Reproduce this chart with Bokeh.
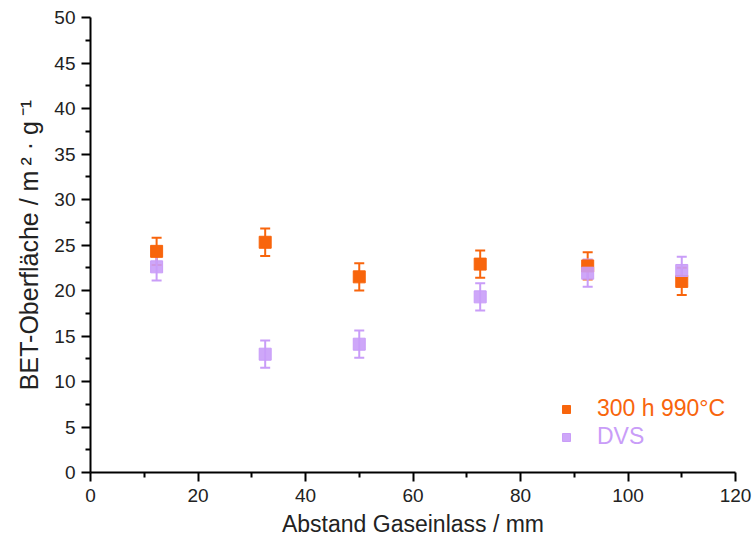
from bokeh.plotting import figure
from bokeh.models import (ColumnDataSource, Range1d, Whisker, TeeHead, Legend,
                          LegendItem, FixedTicker)
from bokeh.embed import file_html
from bokeh.resources import INLINE

# Data
distance_mm = [12.3, 32.5, 50.0, 72.5, 92.5, 110.0]
bet_300h = [24.3, 25.3, 21.5, 22.9, 22.7, 21.0]
err_300h = [1.5, 1.5, 1.5, 1.5, 1.5, 1.5]
bet_dvs = [22.6, 13.0, 14.1, 19.3, 21.9, 22.2]
err_dvs = [1.5, 1.5, 1.5, 1.5, 1.5, 1.5]
series_names = ["300 h 990°C", "DVS"]
x_ticks = [0, 20, 40, 60, 80, 100, 120]
y_ticks = [0, 5, 10, 15, 20, 25, 30, 35, 40, 45, 50]

ORANGE = "#F8650C"
PURPLE = "#C99DF8"
FONT = "Liberation Sans"

p = figure(width=753, height=544, output_backend="svg", toolbar_location=None,
           x_range=Range1d(0, 120), y_range=Range1d(0, 50),
           min_border_left=90, min_border_right=18, min_border_top=17,
           min_border_bottom=72)
p.outline_line_color = None
p.xgrid.grid_line_color = None
p.ygrid.grid_line_color = None
p.background_fill_color = "white"
p.border_fill_color = "white"

def make_src(y, e):
    return ColumnDataSource(dict(x=distance_mm, y=y,
                                 lo=[a - b for a, b in zip(y, e)],
                                 hi=[a + b for a, b in zip(y, e)]))

src_o = make_src(bet_300h, err_300h)
src_p = make_src(bet_dvs, err_dvs)

for src, col in ((src_o, ORANGE), (src_p, PURPLE)):
    w = Whisker(source=src, base="x", upper="hi", lower="lo",
                line_color=col, line_width=2,
                upper_head=TeeHead(size=10, line_color=col, line_width=2),
                lower_head=TeeHead(size=10, line_color=col, line_width=2))
    p.add_layout(w)

r_o = p.scatter("x", "y", source=src_o, marker="square", size=12,
                fill_color=ORANGE, line_color=ORANGE)
r_p = p.scatter("x", "y", source=src_p, marker="square", size=12,
                fill_color=PURPLE, line_color=PURPLE, fill_alpha=0.9)

# Axes
for ax in (p.xaxis[0], p.yaxis[0]):
    ax.axis_line_width = 2
    ax.major_tick_line_width = 2
    ax.minor_tick_line_width = 2
    ax.major_tick_out = 9
    ax.major_tick_in = 0
    ax.minor_tick_out = 5
    ax.minor_tick_in = 0
    ax.major_label_text_font = FONT
    ax.major_label_text_font_size = "19px"
    ax.major_label_text_color = "#222222"
    ax.axis_label_text_font = FONT
    ax.axis_label_text_font_style = "normal"
    ax.axis_label_text_color = "#222222"

p.xaxis.axis_label_text_font_size = "23px"
p.yaxis.axis_label_text_font_size = "25px"
p.xaxis.ticker = FixedTicker(ticks=x_ticks, minor_ticks=[10, 30, 50, 70, 90, 110])
p.yaxis.ticker = FixedTicker(ticks=y_ticks,
                             minor_ticks=[2.5 + 5 * i for i in range(10)])
p.xaxis.axis_label = "Abstand Gaseinlass / mm"
p.yaxis.axis_label = "BET-Oberfläche / m\u2009² · g\u2009⁻¹"
p.xaxis.major_label_standoff = 7
p.xaxis.axis_label_standoff = 6
p.yaxis.major_label_standoff = 6
p.yaxis.axis_label_standoff = 8

# Legends (one per series so each label gets its series colour)
for r, name, col, yoff in ((r_o, series_names[0], ORANGE, 50),
                           (r_p, series_names[1], PURPLE, 22)):
    lg = Legend(items=[LegendItem(label=name, renderers=[r])],
                location=(466, yoff), orientation="vertical",
                label_text_color=col, label_text_font=FONT,
                label_text_font_size="23px", glyph_width=20, glyph_height=20,
                label_height=22, label_standoff=21, padding=0, margin=0,
                border_line_color=None, background_fill_alpha=0)
    p.add_layout(lg)

open("out.html", "w").write(file_html(p, INLINE))
